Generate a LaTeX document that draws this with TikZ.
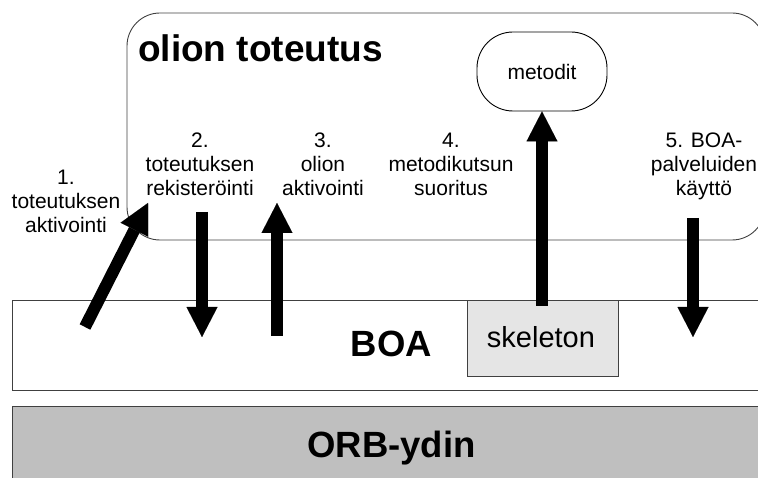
\documentclass[tikz,border=0pt]{standalone}
\usepackage{fontspec}
\setmainfont{Liberation Sans}
\usetikzlibrary{arrows.meta}
\begin{document}
\begin{tikzpicture}[x=1pt,y=-1pt,
  lbl/.style={align=center,anchor=base,inner sep=0pt,
    font=\fontsize{21pt}{24pt}\selectfont},
  bigbold/.style={inner sep=0pt,anchor=base,
    font=\fontsize{36.5pt}{40pt}\selectfont\bfseries},
  thinbox/.style={draw=black!75,line width=0.9pt},
  fatarrow/.style={line width=12pt,
    -{Triangle[width=31pt,length=30pt,line width=0.01pt]}}
]
\useasboundingbox (0,0) rectangle (758,478);
% layers
\path[clip] (0,0) rectangle (758,478);
\draw[thinbox,rounded corners=33pt] (127,13) rectangle (765,240);
\draw[thinbox] (12,300) rectangle (780,390);
\draw[thinbox,fill=black!25] (12,406) rectangle (780,500);
\node[thinbox,fill=black!10,minimum width=151pt,minimum height=76pt,
  inner sep=0pt] (skel) at (542.5,338) {};
\node[inner sep=0pt,anchor=base,font=\fontsize{29pt}{32pt}\selectfont]
  (skeltxt) at (541,348) {skeleton};
\node[draw=black,line width=0.9pt,rounded corners=36pt,minimum width=130pt,
  minimum height=79pt,inner sep=0pt,font=\fontsize{21pt}{24pt}\selectfont]
  (metodit) at (542,71.5) {metodit};
% titles
\node[bigbold,anchor=base west] (title) at (138,62)
  {\fontsize{37pt}{40pt}\selectfont olion toteutus};
\node[bigbold] (boa) at (391.5,357) {BOA};
\node[bigbold] (orb) at (391.5,457) {ORB-ydin};
% labels (anchor = baseline of last line)
\node[lbl] (l1) at (66,233) {1.\\toteutuksen\\aktivointi};
\node[lbl] (l2) at (200,196) {2.\\toteutuksen\\rekisteröinti};
\node[lbl] (l3) at (323,196) {3.\\olion\\aktivointi};
\node[lbl] (l4) at (451,196) {4.\\metodikutsun\\suoritus};
\node[lbl] (l5) at (704,196) {5. BOA-\\palveluiden\\käyttö};
% arrow end points
\coordinate (a1s) at (85,327);
\coordinate (a1e) at (148,203);
\coordinate (a2s) at (202,212);
\coordinate (a2e) at (202,337);
\coordinate (a3s) at (277,336);
\coordinate (a3e) at (277,203);
\coordinate (a4s) at (542,306);
\coordinate (a5s) at (693,218);
\coordinate (a5e) at (693,337);
\draw[fatarrow] (a1s) -- (a1e);
\draw[fatarrow] (a2s) -- (a2e);
\draw[fatarrow] (a3s) -- (a3e);
\draw[fatarrow] (a4s) -- (metodit.south);
\draw[fatarrow] (a5s) -- (a5e);
\end{tikzpicture}
\end{document}
